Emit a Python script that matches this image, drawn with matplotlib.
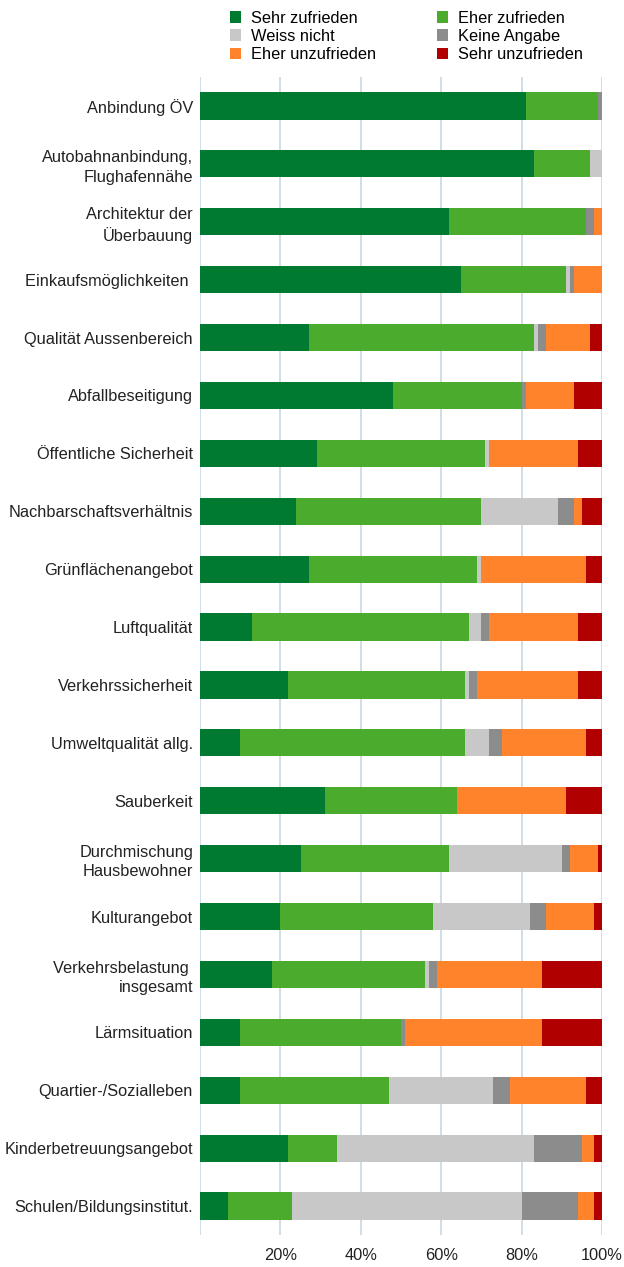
import matplotlib
matplotlib.use("Agg")
import matplotlib.pyplot as plt
from matplotlib.patches import Patch
import numpy as np

plt.rcParams['font.family'] = ['Liberation Sans', 'DejaVu Sans']

categories = [
    "Anbindung ÖV",
    "Autobahnanbindung,\nFlughafennähe",
    "Architektur der\nÜberbauung",
    "Einkaufsmöglichkeiten ",
    "Qualität Aussenbereich",
    "Abfallbeseitigung",
    "Öffentliche Sicherheit",
    "Nachbarschaftsverhältnis",
    "Grünflächenangebot",
    "Luftqualität",
    "Verkehrssicherheit",
    "Umweltqualität allg.",
    "Sauberkeit",
    "Durchmischung\nHausbewohner",
    "Kulturangebot",
    "Verkehrsbelastung \ninsgesamt",
    "Lärmsituation",
    "Quartier-/Sozialleben",
    "Kinderbetreuungsangebot",
    "Schulen/Bildungsinstitut.",
]

series_names = ["Sehr zufrieden", "Eher zufrieden", "Weiss nicht",
                "Keine Angabe", "Eher unzufrieden", "Sehr unzufrieden"]

sehr_zufrieden   = [81, 83, 62, 65, 27, 48, 29, 24, 27, 13, 22, 10, 31, 25, 20, 18, 10, 10, 22, 7]
eher_zufrieden   = [18, 14, 34, 26, 56, 32, 42, 46, 42, 54, 44, 56, 33, 37, 38, 38, 40, 37, 12, 16]
weiss_nicht      = [0, 3, 0, 1, 1, 0, 1, 19, 1, 3, 1, 6, 0, 28, 24, 1, 0, 26, 49, 57]
keine_angabe     = [1, 0, 2, 1, 2, 1, 0, 4, 0, 2, 2, 3, 0, 2, 4, 2, 1, 4, 12, 14]
eher_unzufrieden = [0, 0, 2, 7, 11, 12, 22, 2, 26, 22, 25, 21, 27, 7, 12, 26, 34, 19, 3, 4]
sehr_unzufrieden = [0, 0, 0, 0, 3, 7, 6, 5, 4, 6, 6, 4, 9, 1, 2, 15, 15, 4, 2, 2]

colors = ["#007a30", "#4aab2c", "#c8c8c8", "#8c8c8c", "#ff832b", "#b00000"]

data = [sehr_zufrieden, eher_zufrieden, weiss_nicht, keine_angabe,
        eher_unzufrieden, sehr_unzufrieden]

xticks = [20, 40, 60, 80, 100]
xticklabels = ["20%", "40%", "60%", "80%", "100%"]

fig = plt.figure(figsize=(6.24, 12.67), dpi=100)
ax = fig.add_axes([200 / 624, 1 - 1235 / 1267, 402 / 624, 1158 / 1267])

y = np.arange(len(categories))
left = np.zeros(len(categories))
for name, vals, col in zip(series_names, data, colors):
    vals = np.array(vals, dtype=float)
    ax.barh(y, vals, left=left, height=0.47, color=col, label=name, zorder=3)
    left += vals

ax.set_xlim(0, 100)
ax.set_ylim(len(categories) - 0.5, -0.5)
ax.set_yticks(y)
ax.set_yticklabels(categories, fontsize=11.8, color="#222222", linespacing=1.35)
ax.set_xticks([0] + xticks)
ax.set_xticklabels([""] + xticklabels, fontsize=11.8, color="#222222")
ax.tick_params(axis='both', length=0)
ax.tick_params(axis='y', pad=5)
ax.tick_params(axis='x', pad=9)
ax.grid(axis='x', color="#c8d8e0", linewidth=1.2, zorder=0)
for s in ax.spines.values():
    s.set_visible(False)

# legend: row-wise order in 2 columns
order = [0, 2, 4, 1, 3, 5]
handles = [Patch(facecolor=colors[i], edgecolor='none') for i in order]
labels = [series_names[i] for i in order]
fig.legend(handles, labels, ncol=2, loc='upper left',
           bbox_to_anchor=(223 / 624, 1 - 4 / 1267), frameon=False,
           fontsize=11.8, handlelength=0.7, handleheight=0.7,
           handletextpad=0.6, columnspacing=3.7, labelspacing=0.2,
           borderaxespad=0)

fig.savefig("out.png", dpi=100)
